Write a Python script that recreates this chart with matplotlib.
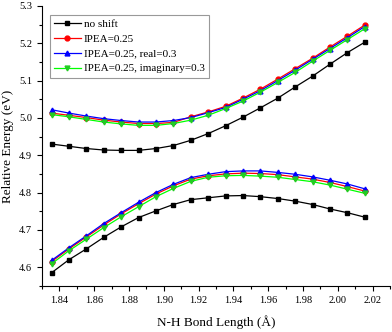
import numpy as np
import matplotlib
matplotlib.use('Agg')
import matplotlib.pyplot as plt
from matplotlib.ticker import MultipleLocator

plt.rcParams['font.family'] = ['Liberation Serif', 'DejaVu Serif']

# N-H bond length [Angstrom]
bond = [1.8355, 1.8455, 1.8555, 1.8655, 1.8755, 1.8855, 1.8955, 1.9055, 1.9155, 1.9255,
        1.9355, 1.9455, 1.9555, 1.9655, 1.9755, 1.9855, 1.9955, 2.0055, 2.0155]

# upper state
noshift_up = [4.930, 4.924, 4.918, 4.914, 4.913, 4.913, 4.918, 4.926, 4.940, 4.958,
              4.979, 5.002, 5.027, 5.053, 5.083, 5.112, 5.144, 5.175, 5.203]
ipea_up = [5.013, 5.007, 5.001, 4.994, 4.989, 4.985, 4.985, 4.988, 5.003, 5.016,
           5.031, 5.053, 5.077, 5.104, 5.132, 5.160, 5.190, 5.219, 5.249]
real_up = [5.022, 5.013, 5.005, 4.998, 4.993, 4.989, 4.989, 4.993, 5.001, 5.014,
           5.028, 5.050, 5.073, 5.100, 5.128, 5.157, 5.186, 5.215, 5.245]
imag_up = [5.009, 5.003, 4.996, 4.989, 4.984, 4.980, 4.980, 4.985, 4.994, 5.007,
           5.025, 5.045, 5.069, 5.095, 5.122, 5.152, 5.181, 5.210, 5.239]

# lower state
noshift_lo = [4.585, 4.620, 4.649, 4.680, 4.708, 4.733, 4.751, 4.768, 4.781, 4.786,
              4.791, 4.792, 4.789, 4.784, 4.777, 4.768, 4.756, 4.746, 4.734]
ipea_lo = [4.615, 4.649, 4.681, 4.713, 4.743, 4.770, 4.796, 4.818, 4.836, 4.845,
           4.850, 4.852, 4.851, 4.848, 4.842, 4.836, 4.827, 4.816, 4.804]
real_lo = [4.618, 4.652, 4.684, 4.717, 4.746, 4.774, 4.800, 4.822, 4.840, 4.849,
           4.856, 4.858, 4.858, 4.854, 4.849, 4.842, 4.833, 4.823, 4.810]
imag_lo = [4.609, 4.644, 4.675, 4.706, 4.735, 4.762, 4.789, 4.811, 4.830, 4.841,
           4.845, 4.846, 4.844, 4.841, 4.835, 4.829, 4.820, 4.809, 4.798]

labels = ['no shift', 'IPEA=0.25', 'IPEA=0.25, real=0.3', 'IPEA=0.25, imaginary=0.3']
colors = ['black', '#ff0000', '#0000ff', '#00ff00']
mcolors = ['black', '#ff0000', '#0000ff', '#22cc22']
markers = ['s', 'o', '^', 'v']
upper = [noshift_up, ipea_up, real_up, imag_up]
lower = [noshift_lo, ipea_lo, real_lo, imag_lo]

fig = plt.figure(figsize=(3.92, 3.32), dpi=100)
ax = fig.add_axes([0.107, 0.139, 0.888, 0.843])

for up, lo, lab, c, mc, m in zip(upper, lower, labels, colors, mcolors, markers):
    ax.plot(bond, up, color=c, lw=0.9, marker=m, ms=3.5, mfc=mc, mec=mc, label=lab)
    ax.plot(bond, lo, color=c, lw=0.9, marker=m, ms=3.5, mfc=mc, mec=mc)

ax.set_xlim(1.83, 2.03)
ax.set_ylim(4.55, 5.3)
ax.xaxis.set_major_locator(MultipleLocator(0.02))
ax.xaxis.set_minor_locator(MultipleLocator(0.01))
ax.yaxis.set_major_locator(MultipleLocator(0.1))
ax.yaxis.set_minor_locator(MultipleLocator(0.05))
ax.xaxis.set_major_formatter(plt.FormatStrFormatter('%.2f'))
ax.yaxis.set_major_formatter(plt.FormatStrFormatter('%.1f'))
ax.tick_params(which='both', direction='out', labelsize=7.5, width=0.8)
ax.tick_params(which='major', length=3.5)
ax.tick_params(which='minor', length=2)
ax.spines['top'].set_visible(False)
ax.spines['right'].set_visible(False)

ax.set_xlabel('N-H Bond Length (Å)', fontsize=9.5, labelpad=8)
ax.set_ylabel('Relative Energy (eV)', fontsize=9.5, labelpad=4)

leg = ax.legend(loc='upper left', bbox_to_anchor=(0.023, 0.968), borderaxespad=0,
                fontsize=8, fancybox=False, edgecolor='gray', handlelength=2.35,
                borderpad=0.4, labelspacing=0.45, handletextpad=0.3)
leg.get_frame().set_linewidth(0.8)

fig.savefig('out.png', dpi=100)
